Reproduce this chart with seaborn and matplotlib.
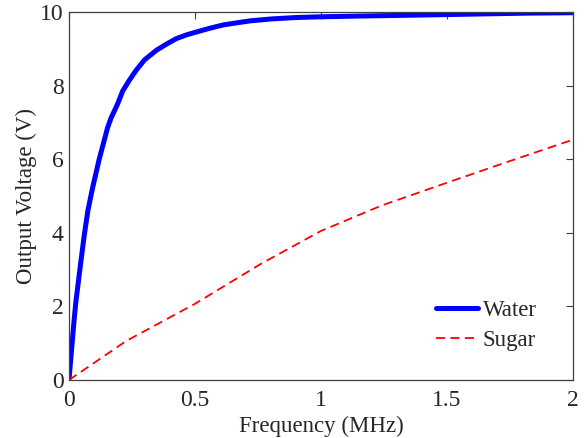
import matplotlib
matplotlib.use('Agg')
import matplotlib.pyplot as plt
import seaborn as sns
import pandas as pd

# values
water_freq = [0, 0.01, 0.02, 0.027, 0.045, 0.06, 0.075, 0.093, 0.12, 0.153,
              0.167, 0.193, 0.213, 0.24, 0.267, 0.3, 0.347, 0.39, 0.427, 0.467,
              0.507, 0.56, 0.613, 0.67, 0.72, 0.8, 0.9, 1.0, 1.15, 1.33,
              1.5, 1.66, 1.83, 2.0]
water_volt = [0, 0.8, 1.6, 2.1, 3.1, 3.9, 4.6, 5.2, 6.0, 6.85,
              7.12, 7.5, 7.85, 8.15, 8.42, 8.7, 8.96, 9.14, 9.28, 9.38,
              9.46, 9.56, 9.65, 9.71, 9.76, 9.81, 9.85, 9.87, 9.89, 9.91,
              9.93, 9.95, 9.97, 9.98]

sugar_freq = [0, 0.227, 0.5, 0.76, 1.0, 1.24, 1.5, 1.75, 2.0]
sugar_volt = [0, 1.06, 2.07, 3.15, 4.05, 4.74, 5.36, 5.95, 6.53]

x_ticks = [0, 0.5, 1, 1.5, 2]
x_tick_labels = ['0', '0.5', '1', '1.5', '2']
y_ticks = [0, 2, 4, 6, 8, 10]

sns.set_style('white')
plt.rcParams['font.family'] = ['Liberation Serif', 'DejaVu Serif']

water = pd.DataFrame({'freq': water_freq, 'volt': water_volt})
sugar = pd.DataFrame({'freq': sugar_freq, 'volt': sugar_volt})

fig = plt.figure(figsize=(5.87, 4.38), dpi=100)
ax = fig.add_axes([0.1175, 0.1324, 0.8585, 0.8402])

sns.lineplot(data=water, x='freq', y='volt', ax=ax, color='#0000ff',
             linewidth=3.6, label='Water', estimator=None, sort=False)
sns.lineplot(data=sugar, x='freq', y='volt', ax=ax, color='#ff0000',
             linewidth=1.3, linestyle=(0, (5, 3)), label='Sugar',
             estimator=None, sort=False)

ax.set_xlim(0, 2)
ax.set_ylim(0, 10)
ax.set_xticks(x_ticks)
ax.set_xticklabels(x_tick_labels)
ax.set_yticks(y_ticks)
ax.set_xlabel('Frequency (MHz)', fontsize=16.5, labelpad=4)
ax.set_ylabel('Output Voltage (V)', fontsize=16.5, labelpad=2)

# matlab-ish box with inward ticks on all sides
for side in ['top', 'right', 'bottom', 'left']:
    ax.spines[side].set_visible(True)
    ax.spines[side].set_color('#404040')
    ax.spines[side].set_linewidth(0.9)
ax.tick_params(direction='in', length=5, width=0.8, color='#404040',
               top=True, right=True, labelsize=17)
ax.tick_params(axis='x', pad=7)
ax.tick_params(axis='y', pad=4)

ax.legend(loc='lower right', frameon=False, fontsize=16.5, handlelength=1.85,
          handletextpad=0.2, borderaxespad=0.85, labelspacing=0.4,
          bbox_to_anchor=(0.985, 0.0))

fig.savefig('out.png', dpi=100)
